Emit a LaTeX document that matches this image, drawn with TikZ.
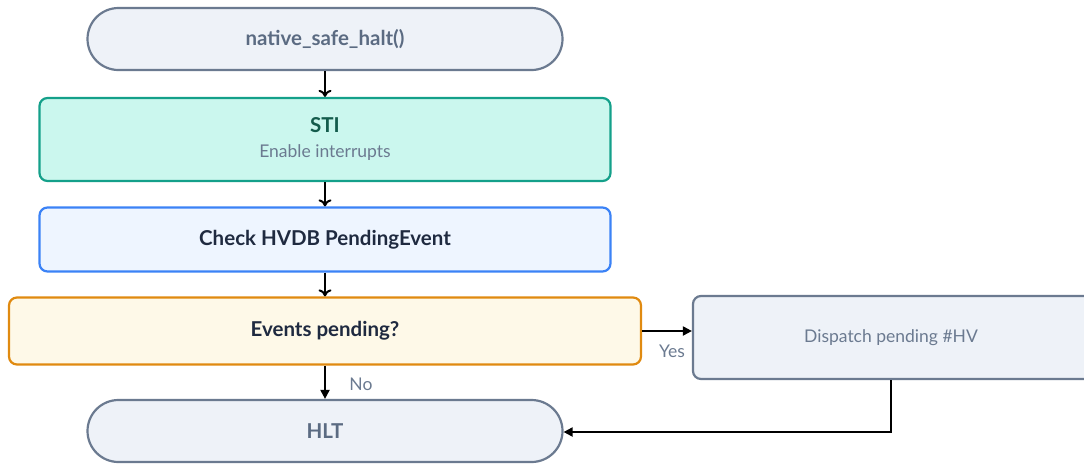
\documentclass[tikz,border=0pt]{standalone}
\usepackage{fontspec}
\setmainfont{Lato}
\usetikzlibrary{arrows.meta}

\definecolor{pillfill}{HTML}{EEF2F8}
\definecolor{pillline}{HTML}{6B7A90}
\definecolor{pilltext}{HTML}{5B6B82}
\definecolor{stifill}{HTML}{CBF7EE}
\definecolor{stiline}{HTML}{14A08A}
\definecolor{stitext}{HTML}{145C4C}
\definecolor{subtext}{HTML}{6B7A90}
\definecolor{chkfill}{HTML}{EEF5FF}
\definecolor{chkline}{HTML}{3B82F6}
\definecolor{darktext}{HTML}{1F2A40}
\definecolor{evfill}{HTML}{FEF9E8}
\definecolor{evline}{HTML}{E08A10}

\newcommand{\titlefont}{\fontsize{20.5}{24}\selectfont\bfseries}
\newcommand{\smallfont}{\fontsize{17.5}{25}\selectfont}

\tikzset{
  pill/.style={draw=pillline, fill=pillfill, line width=2.2pt, rounded corners=31pt,
    minimum width=475pt, minimum height=62pt, inner sep=0pt, text=pilltext},
  boxnode/.style={line width=2.2pt, rounded corners=8pt, inner sep=0pt, align=center},
  flow/.style={line width=2pt, -{To[length=7pt,width=13pt,line width=2pt]}},
  flowfill/.style={line width=2pt, -{Triangle[length=9pt,width=9pt]}},
  lbl/.style={text=subtext, font=\smallfont}
}

\begin{document}
\begin{tikzpicture}[x=1pt,y=-1pt]
  \useasboundingbox (0,0) rectangle (1084,464);

  % main column
  \node[pill] (start) at (325,39) {\titlefont native\_safe\_halt()};

  \node[boxnode, draw=stiline, fill=stifill, minimum width=571pt, minimum height=83pt,
    font=\smallfont]
    (sti) at (325,139.5)
    {{\titlefont\color{stitext}STI}\\
     {\color{subtext}Enable interrupts}};

  \node[boxnode, draw=chkline, fill=chkfill, minimum width=571pt, minimum height=64pt,
    text=darktext]
    (chk) at (325,239.5) {\titlefont Check HVDB PendingEvent};

  \node[boxnode, draw=evline, fill=evfill, minimum width=632pt, minimum height=67pt,
    text=darktext]
    (ev) at (325,331) {\titlefont Events pending?};

  \node[pill] (hlt) at (325,431) {\titlefont HLT};

  % side branch
  \node[boxnode, draw=pillline, fill=pillfill, minimum width=400pt, minimum height=83pt,
    text=subtext]
    (disp) at (893,337.5) {\hspace*{-4pt}\smallfont Dispatch pending \#HV};

  % connectors
  \draw[flow] (start.south) -- (sti.north);
  \draw[flow] (sti.south) -- (chk.north);
  \draw[flow] (chk.south) -- (ev.north);
  \draw[flowfill] (ev.south) -- (hlt.north);
  \node[lbl] (no) at (361,384) {No};
  \draw[flowfill] (ev.east |- 0,331) -- (disp.west |- 0,331);
  \node[lbl] (yes) at (672,351) {Yes};
  \coordinate (turn) at (891,432);
  \draw[flowfill] (disp.south -| turn) -- (turn) -- (hlt.east |- turn);
\end{tikzpicture}
\end{document}
